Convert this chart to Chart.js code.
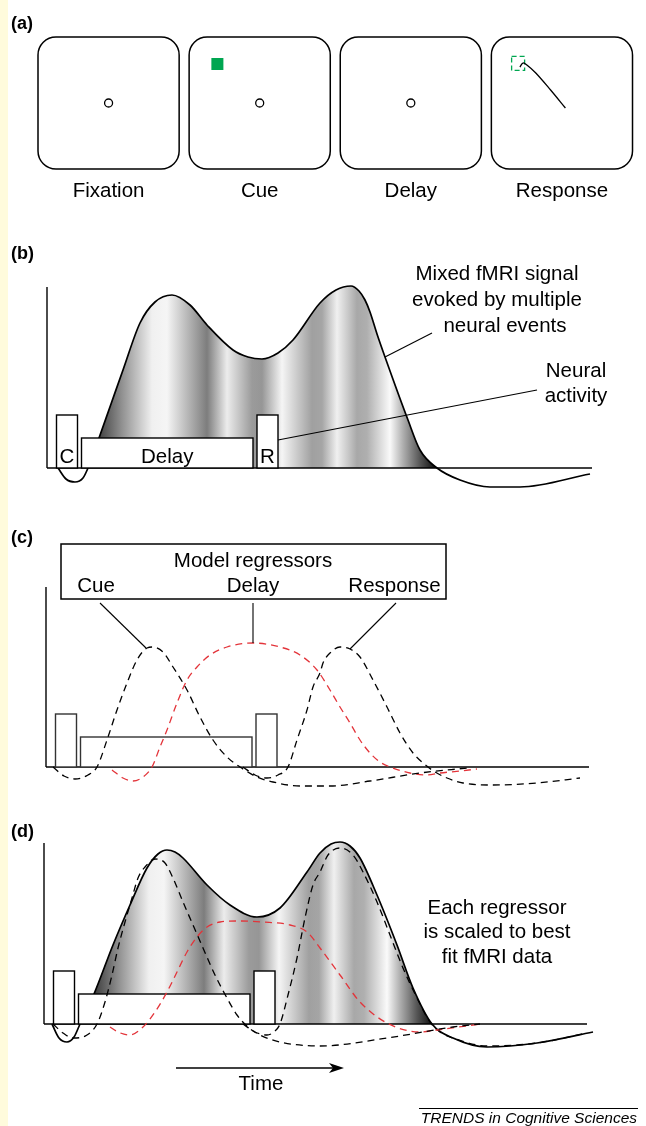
<!DOCTYPE html>
<html>
<head>
<meta charset="utf-8">
<script src="https://cdn.jsdelivr.net/npm/chart.js@4.4.1/dist/chart.umd.min.js"></script>
<style>
body { margin: 0; background: #fff; width: 646px; height: 1126px; overflow: hidden; position: relative; }
#stripe { position: absolute; left: 0; top: 0; width: 8px; height: 1126px; background: #fffbdc; }
canvas { position: absolute; left: 0; }
</style>
</head>
<body>
<div id="stripe"></div>
<canvas id="panelA" width="646" height="210" style="top:0;width:646px;height:210px"></canvas>
<canvas id="panelB" width="646" height="310" style="top:210px;width:646px;height:310px"></canvas>
<canvas id="panelC" width="646" height="290" style="top:520px;width:646px;height:290px"></canvas>
<canvas id="panelD" width="646" height="316" style="top:810px;width:646px;height:316px"></canvas>
<script>
// (a) trial screens, x = screen index, y = position inside the screen (-1..1)
var screens = ['Fixation', 'Cue', 'Delay', 'Response'];
var fixationDots = [[0, 0], [1, 0], [2, 0]];
var cueTarget = [[0.72, 0.59]];
var responseTarget = [[2.71, 0.6]];
var saccadePath = [[2.722, 0.545], [2.742, 0.606], [2.768, 0.576], [2.827, 0.455], [2.925, 0.197], [3.023, -0.076]];

// neural events (time units), same in b, c, d
var events = ['C', 'Delay', 'R'];
var eventStart = [0.95, 3.45, 21.0];
var eventEnd = [3.05, 20.6, 23.1];
var eventHeight = [5.3, 3.0, 5.3];

// (b) mixed fMRI signal [time, signal]
var signalB = [[1.1, 0], [1.9, -1.1], [2.8, -1.4], [3.6, -1.0], [4.1, 0], [5.2, 3.0], [6.4, 6.4], [7.6, 9.8], [9.3, 14.5],
    [10.8, 16.6], [12.5, 17.3], [14.3, 16.3], [16.0, 14.3], [18.6, 11.8], [20.1, 11.1], [21.5, 10.9], [23.1, 11.5],
    [24.6, 12.8], [27.3, 16.5], [28.9, 17.8], [30.4, 18.2], [31.2, 17.7], [31.8, 16.8], [32.3, 15.6], [33.0, 13.4],
    [33.8, 11.1], [36.1, 4.8], [37.3, 1.8], [39.0, 0], [41.3, -1.2], [44.3, -1.9], [47.3, -1.9], [54.3, -0.6]];

// (c) model regressors
var cueRegC = [[0.7, 0], [1.8, -0.9], [2.9, -1.2], [4.2, -0.8], [5.1, 0], [6.1, 2.7], [7.1, 5.7], [8.1, 8.4], [9.1, 10.7],
    [10.1, 11.9], [10.7, 12.0], [11.7, 11.5], [12.7, 10.0], [14.1, 7.7], [15.4, 5.0], [16.7, 2.7], [18.1, 1.0], [19.4, 0],
    [21.1, -1.0], [22.7, -1.5], [25.4, -1.9], [28.4, -1.9], [32.4, -1.4], [37.4, -0.6], [42.1, -0.1]];
var delayRegC = [[6.6, -0.3], [7.7, -1.1], [8.7, -1.4], [9.7, -1.0], [10.6, 0], [11.4, 2.0], [12.1, 3.7], [13.1, 6.4],
    [14.1, 8.7], [15.1, 10.0], [16.4, 11.2], [18.1, 12.0], [20.7, 12.4], [23.4, 12.0], [25.4, 11.2], [27.1, 9.7],
    [28.4, 7.7], [29.4, 6.0], [30.4, 4.4], [31.4, 2.7], [32.4, 1.4], [33.4, 0.5], [34.7, -0.1], [36.4, -0.6],
    [38.1, -0.8], [39.4, -0.6], [41.4, -0.4], [43.1, -0.2]];
var respRegC = [[19.7, 0], [20.9, -0.8], [22.1, -1.1], [23.2, -0.8], [24.2, 0], [25.1, 2.7], [26.1, 5.7], [26.7, 8.0],
    [27.4, 9.4], [27.7, 10.4], [28.4, 11.4], [29.4, 12.0], [30.4, 11.8], [31.4, 11.0], [32.7, 8.7], [34.1, 6.0],
    [35.4, 3.4], [36.7, 1.4], [37.7, 0.4], [38.9, -0.5], [40.1, -1.1], [41.7, -1.6], [44.7, -1.8], [49.1, -1.6], [53.4, -1.1]];

// (d) fitted signal and scaled regressors
var signalD = [[0.8, 0], [1.5, -1.4], [2.3, -1.8], [3.0, -1.3], [3.6, 0], [5.0, 3.0], [6.9, 7.9], [8.6, 11.9], [10.3, 15.6],
    [11.4, 17.0], [12.3, 17.4], [13.1, 17.2], [13.9, 16.6], [16.3, 13.9], [18.6, 11.9], [21.3, 10.7], [23.6, 11.6],
    [26.3, 15.2], [27.6, 17.1], [28.7, 18.0], [29.6, 18.2], [30.6, 17.8], [31.6, 16.6], [33.3, 12.9], [35.3, 7.9],
    [36.9, 3.6], [38.8, 0], [40.9, -1.4], [44.3, -2.3], [49.3, -1.9], [54.9, -0.8]];
var cueRegD = [[0.9, 0], [1.9, -0.9], [2.9, -1.4], [4.3, -1.1], [5.3, 0], [6.1, 2.2], [6.8, 4.9], [7.4, 7.6], [8.1, 10.2],
    [8.8, 12.6], [9.4, 14.6], [10.1, 15.7], [11.1, 16.5], [12.1, 16.1], [12.9, 14.6], [13.9, 12.2], [14.9, 9.9],
    [15.9, 7.6], [17.1, 4.9], [18.3, 2.6], [19.3, 0.9], [20.4, -0.3], [21.6, -1.1], [23.6, -1.8], [27.6, -2.2],
    [34.3, -1.4], [40.9, -0.3], [43.6, 0]];
var delayRegD = [[6.6, -0.3], [7.4, -0.8], [8.6, -1.1], [9.9, -0.3], [11.1, 1.2], [12.3, 3.2], [13.3, 5.2], [14.3, 7.2],
    [15.3, 8.7], [16.3, 9.7], [17.6, 10.2], [19.3, 10.3], [21.9, 10.2], [24.6, 9.9], [26.3, 9.2], [27.6, 7.6],
    [29.6, 4.9], [31.6, 2.2], [34.3, 0.1], [37.6, -0.8], [39.3, -0.6], [43.6, 0]];
var respRegD = [[19.9, 0], [21.1, -0.8], [22.3, -1.1], [23.1, -0.7], [23.6, 0], [24.4, 2.9], [25.3, 6.6], [26.1, 10.6],
    [26.9, 13.9], [27.6, 15.2], [28.4, 16.9], [29.6, 17.6], [30.9, 16.9], [31.9, 15.2], [33.3, 12.2], [34.6, 8.9],
    [35.9, 5.6], [37.3, 2.6], [38.6, 0.2], [39.6, -0.8], [40.9, -1.4], [44.3, -2.2], [49.3, -1.9], [54.3, -0.9]];

var FONT = '"Liberation Sans", Arial, Helvetica, sans-serif';
var RED = '#e3343a';
var GREEN = '#00a651';
// grey bands of the shaded area [time, grey level]
var shadeStops = [[5.0, 60], [7.5, 145], [10.5, 240], [12.0, 245], [14.0, 185], [16.0, 125], [18.0, 236], [20.5, 155],
    [21.5, 150], [23.5, 245], [26.5, 160], [27.5, 165], [29.0, 240], [31.0, 168], [32.0, 175], [34.3, 250], [35.6, 175],
    [37.3, 85], [38.6, 25]];

var pts = (arr) => arr.map((p) => ({x: p[0], y: p[1]}));

var shading = (c) => {
    var chart = c.chart;
    if (!chart.chartArea) return '#999';
    var xs = chart.scales.x;
    var x0 = xs.getPixelForValue(shadeStops[0][0]);
    var x1 = xs.getPixelForValue(shadeStops[shadeStops.length - 1][0]);
    var g = chart.ctx.createLinearGradient(x0, 0, x1, 0);
    shadeStops.forEach((s) => {
        var v = s[1];
        g.addColorStop((xs.getPixelForValue(s[0]) - x0) / (x1 - x0), 'rgb(' + v + ',' + v + ',' + v + ')');
    });
    return g;
};

function baseOptions(xMin, xMax, yMin, yMax, pad) {
    return {
        responsive: false,
        animation: false,
        events: [],
        layout: {padding: pad},
        plugins: {legend: {display: false}, tooltip: {enabled: false}},
        scales: {
            x: {type: 'linear', min: xMin, max: xMax, display: false},
            y: {type: 'linear', min: yMin, max: yMax, display: false}
        }
    };
}

function text(ctx, str, x, y, opt) {
    opt = opt || {};
    ctx.save();
    ctx.font = (opt.style || 'normal') + ' ' + (opt.weight || 'normal') + ' ' + (opt.size || 20.5) + 'px ' + FONT;
    ctx.fillStyle = '#000';
    ctx.textAlign = opt.align || 'center';
    ctx.textBaseline = 'alphabetic';
    ctx.fillText(str, x, y);
    ctx.restore();
}

function seg(chart, a, b, w) {
    var xs = chart.scales.x, ys = chart.scales.y, ctx = chart.ctx;
    ctx.save();
    ctx.strokeStyle = '#000';
    ctx.lineWidth = w || 1.1;
    ctx.beginPath();
    ctx.moveTo(xs.getPixelForValue(a[0]), ys.getPixelForValue(a[1]));
    ctx.lineTo(xs.getPixelForValue(b[0]), ys.getPixelForValue(b[1]));
    ctx.stroke();
    ctx.restore();
}

function drawAxes(chart, yTop, xEnd) {
    seg(chart, [0, yTop], [0, 0], 1.4);
    seg(chart, [0, 0], [xEnd, 0], 1.4);
}

function drawEvents(chart, withLabels, stroke) {
    var ctx = chart.ctx, xs = chart.scales.x, ys = chart.scales.y;
    events.forEach((name, i) => {
        var l = xs.getPixelForValue(eventStart[i]), r = xs.getPixelForValue(eventEnd[i]);
        var t = ys.getPixelForValue(eventHeight[i]), b = ys.getPixelForValue(0);
        ctx.save();
        ctx.fillStyle = '#fff';
        ctx.fillRect(l, t, r - l, b - t);
        ctx.strokeStyle = stroke || '#000';
        ctx.lineWidth = 1.4;
        ctx.strokeRect(l, t, r - l, b - t);
        ctx.restore();
        if (withLabels) text(ctx, name, (l + r) / 2, b - 5);
    });
}

function panelLabel(chart, str, y) {
    text(chart.ctx, str, 11, y, {weight: 'bold', size: 18, align: 'left'});
}

var dashed = (data, color) => ({
    data: pts(data), borderColor: color, borderWidth: 1.3, borderDash: [7, 5], pointRadius: 0,
    cubicInterpolationMode: 'monotone', fill: false, order: 0
});

var signalSet = (data) => ({
    data: pts(data), borderColor: '#000', borderWidth: 1.7, pointRadius: 0, cubicInterpolationMode: 'monotone',
    backgroundColor: shading, fill: {target: 'origin', below: 'rgba(0,0,0,0)'}, order: 1
});

// ---------- (a)
new Chart(document.getElementById('panelA'), {
    type: 'scatter',
    data: {
        datasets: [
            {data: pts(fixationDots), pointStyle: 'circle', pointRadius: 4, pointBorderWidth: 1.3,
                pointBorderColor: '#000', pointBackgroundColor: '#fff'},
            {data: pts(cueTarget), pointStyle: 'rect', pointRadius: 8.5, pointBorderWidth: 0,
                pointBackgroundColor: GREEN, pointBorderColor: GREEN},
            {data: pts(saccadePath), showLine: true, borderColor: '#000', borderWidth: 1.3, pointRadius: 0, tension: 0.35}
        ]
    },
    options: baseOptions(-0.467, 3.5, -1, 1, {left: 38, right: 1, top: 37, bottom: 41}),
    plugins: [{
        id: 'screensA',
        beforeDatasetsDraw(chart) {
            var ctx = chart.ctx, xs = chart.scales.x, ys = chart.scales.y;
            screens.forEach((s, i) => {
                var l = xs.getPixelForValue(i - 0.467), r = xs.getPixelForValue(i + 0.467);
                var t = ys.getPixelForValue(1), b = ys.getPixelForValue(-1), rad = 18;
                ctx.save();
                ctx.beginPath();
                ctx.moveTo(l + rad, t);
                ctx.arcTo(r, t, r, b, rad);
                ctx.arcTo(r, b, l, b, rad);
                ctx.arcTo(l, b, l, t, rad);
                ctx.arcTo(l, t, r, t, rad);
                ctx.closePath();
                ctx.strokeStyle = '#000';
                ctx.lineWidth = 1.5;
                ctx.stroke();
                ctx.restore();
                text(ctx, s, (l + r) / 2, b + 28);
            });
            var tx = xs.getPixelForValue(responseTarget[0][0]), ty = ys.getPixelForValue(responseTarget[0][1]);
            ctx.save();
            ctx.strokeStyle = GREEN;
            ctx.lineWidth = 1.3;
            ctx.setLineDash([5, 3]);
            ctx.strokeRect(tx - 6.5, ty - 7, 13, 14);
            ctx.restore();
        },
        afterDraw(chart) { panelLabel(chart, '(a)', 29); }
    }]
});

// ---------- (b)
new Chart(document.getElementById('panelB'), {
    type: 'line',
    data: {datasets: [signalSet(signalB)]},
    options: baseOptions(0, 55, -4, 20, {left: 47, right: 49, top: 58, bottom: 12}),
    plugins: [{
        id: 'annotB',
        afterDatasetDraw(chart, args) {
            if (args.index !== 0) return;
            drawAxes(chart, 18.1, 54.5);
            drawEvents(chart, true);
        },
        afterDraw(chart) {
            var ctx = chart.ctx, xs = chart.scales.x, ys = chart.scales.y;
            panelLabel(chart, '(b)', 49);
            seg(chart, [33.8, 11.1], [38.5, 13.5]);
            seg(chart, [23.1, 2.8], [49.0, 7.8]);
            var cx = xs.getPixelForValue(45.0);
            text(ctx, 'Mixed fMRI signal', cx, ys.getPixelForValue(18.8));
            text(ctx, 'evoked by multiple', cx, ys.getPixelForValue(16.2));
            text(ctx, 'neural events', cx + 8, ys.getPixelForValue(13.6));
            var nx = xs.getPixelForValue(52.9);
            text(ctx, 'Neural', nx, ys.getPixelForValue(9.1));
            text(ctx, 'activity', nx, ys.getPixelForValue(6.6));
        }
    }]
});

// ---------- (c)
new Chart(document.getElementById('panelC'), {
    type: 'line',
    data: {datasets: [dashed(cueRegC, '#000'), dashed(delayRegC, RED), dashed(respRegC, '#000')]},
    options: baseOptions(0, 55, -4, 20, {left: 46, right: 50, top: 47, bottom: 3}),
    plugins: [{
        id: 'annotC',
        beforeDatasetsDraw(chart) {
            drawAxes(chart, 18.0, 54.3);
            drawEvents(chart, false, '#333');
        },
        afterDraw(chart) {
            var ctx = chart.ctx, xs = chart.scales.x, ys = chart.scales.y;
            panelLabel(chart, '(c)', 23);
            var l = xs.getPixelForValue(1.5), r = xs.getPixelForValue(40.0);
            var t = ys.getPixelForValue(22.3), b = ys.getPixelForValue(16.8);
            ctx.save();
            ctx.fillStyle = '#fff';
            ctx.fillRect(l, t, r - l, b - t);
            ctx.strokeStyle = '#000';
            ctx.lineWidth = 1.5;
            ctx.strokeRect(l, t, r - l, b - t);
            ctx.restore();
            text(ctx, 'Model regressors', xs.getPixelForValue(20.7), ys.getPixelForValue(20.0));
            text(ctx, 'Cue', xs.getPixelForValue(5.0), ys.getPixelForValue(17.5));
            text(ctx, 'Delay', xs.getPixelForValue(20.7), ys.getPixelForValue(17.5));
            text(ctx, 'Response', xs.getPixelForValue(34.85), ys.getPixelForValue(17.5));
            seg(chart, [5.4, 16.4], [10.0, 11.9]);
            seg(chart, [20.7, 16.4], [20.7, 12.4]);
            seg(chart, [35.0, 16.4], [30.4, 11.8]);
        }
    }]
});

// ---------- (d)
new Chart(document.getElementById('panelD'), {
    type: 'line',
    data: {datasets: [dashed(cueRegD, '#000'), dashed(delayRegD, RED), dashed(respRegD, '#000'), signalSet(signalD)]},
    options: baseOptions(0, 55, -4, 20, {left: 44, right: 52, top: 14, bottom: 62}),
    plugins: [{
        id: 'annotD',
        afterDatasetDraw(chart, args) {
            if (args.index !== 3) return;
            drawAxes(chart, 18.1, 54.3);
            drawEvents(chart, false);
        },
        afterDraw(chart) {
            var ctx = chart.ctx, xs = chart.scales.x, ys = chart.scales.y;
            panelLabel(chart, '(d)', 27);
            var cx = xs.getPixelForValue(45.3);
            text(ctx, 'Each regressor', cx, ys.getPixelForValue(11.0));
            text(ctx, 'is scaled to best', cx, ys.getPixelForValue(8.6));
            text(ctx, 'fit fMRI data', cx, ys.getPixelForValue(6.1));
            // time arrow
            var ax0 = xs.getPixelForValue(13.2), ax1 = xs.getPixelForValue(30.0), ay = ys.getPixelForValue(-4.4);
            ctx.save();
            ctx.strokeStyle = '#000';
            ctx.lineWidth = 1.5;
            ctx.beginPath();
            ctx.moveTo(ax0, ay);
            ctx.lineTo(ax1 - 6, ay);
            ctx.stroke();
            ctx.fillStyle = '#000';
            ctx.beginPath();
            ctx.moveTo(ax1, ay);
            ctx.lineTo(ax1 - 15, ay - 5);
            ctx.lineTo(ax1 - 11, ay);
            ctx.lineTo(ax1 - 15, ay + 5);
            ctx.closePath();
            ctx.fill();
            ctx.restore();
            text(ctx, 'Time', xs.getPixelForValue(21.7), ys.getPixelForValue(-6.6));
            // journal credit
            ctx.save();
            ctx.strokeStyle = '#000';
            ctx.lineWidth = 1;
            ctx.beginPath();
            ctx.moveTo(419, 298.5);
            ctx.lineTo(638, 298.5);
            ctx.stroke();
            ctx.restore();
            text(ctx, 'TRENDS in Cognitive Sciences', 637, 313, {style: 'italic', size: 15.5, align: 'right'});
        }
    }]
});
</script>
</body>
</html>
